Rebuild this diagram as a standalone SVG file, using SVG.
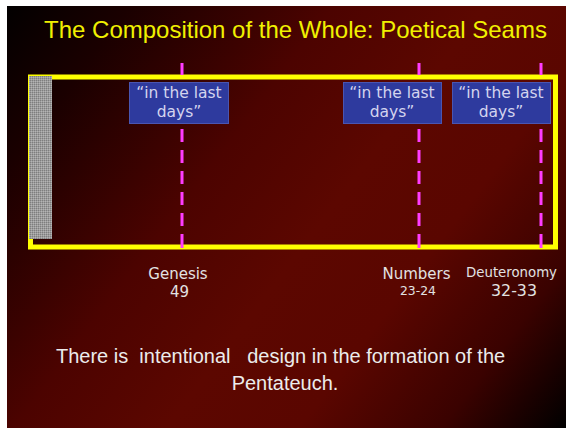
<svg xmlns="http://www.w3.org/2000/svg" width="566" height="428" viewBox="0 0 566 428">
<defs>
<linearGradient id="bg" gradientUnits="userSpaceOnUse" x1="0" y1="0" x2="566" y2="428">
<stop offset="0" stop-color="#000000"/>
<stop offset="0.15" stop-color="#1a0000"/>
<stop offset="0.38" stop-color="#4c0300"/>
<stop offset="0.55" stop-color="#5c0700"/>
<stop offset="0.7" stop-color="#5a0600"/>
<stop offset="0.86" stop-color="#3a0200"/>
<stop offset="1" stop-color="#000000"/>
</linearGradient>
<pattern id="dither" width="2" height="2" patternUnits="userSpaceOnUse">
<rect width="2" height="2" fill="#9c9c9c"/>
<rect width="1" height="1" fill="#7e7e7e"/>
<rect x="1" y="1" width="1" height="1" fill="#b4b4b4"/>
</pattern>
</defs>
<style>
.title{font-family:"Liberation Sans",Arial,sans-serif;font-size:24px;fill:#f0f000}
.box rect{fill:#2e3a9e;stroke:#4a55b0;stroke-width:1}
.box text{font-family:"DejaVu Sans",Verdana,sans-serif;font-size:15.5px;fill:#d4d4ee;text-anchor:middle}
.seam{stroke:#ff3cff;stroke-width:3;fill:none;stroke-dasharray:12 54 13 8 13 8 13 8 13 8 13 8 14 100}
.lbl{font-family:"DejaVu Sans",Verdana,sans-serif;fill:#e2e2e2;text-anchor:middle}
.body{font-family:"Liberation Sans",Arial,sans-serif;font-size:20px;fill:#ececec}
</style>
<rect x="0" y="0" width="566" height="428" fill="#ffffff"/>
<rect x="7" y="6" width="559" height="422" fill="url(#bg)"/>
<text class="title" x="295.5" y="38" text-anchor="middle">The Composition of the Whole: Poetical Seams</text>
<g id="frame">
<rect x="30.5" y="77" width="525" height="170" fill="none" stroke="#ffff00" stroke-width="5"/>
<rect x="29" y="76" width="23" height="163" fill="url(#dither)"/>
</g>
<g id="connectors">
<line class="seam" x1="182" y1="63" x2="182" y2="260"/>
<line class="seam" x1="419" y1="63" x2="419" y2="260"/>
<line class="seam" x1="541" y1="63" x2="541" y2="260"/>
</g>
<g id="box1" class="box">
<rect x="129.5" y="82.5" width="99" height="41"/>
<text x="179" y="98">“in the last</text>
<text x="179" y="117">days”</text>
</g>
<g id="box2" class="box">
<rect x="343.5" y="82.5" width="98" height="41"/>
<text x="392" y="98">“in the last</text>
<text x="392" y="117">days”</text>
</g>
<g id="box3" class="box">
<rect x="452.5" y="82.5" width="98" height="41"/>
<text x="501" y="98">“in the last</text>
<text x="501" y="117">days”</text>
</g>
<g id="genesis">
<text class="lbl" x="178" y="279" font-size="15">Genesis</text>
<text class="lbl" x="179.5" y="297" font-size="15">49</text>
</g>
<g id="numbers">
<text class="lbl" x="416.5" y="279" font-size="15">Numbers</text>
<text class="lbl" x="418" y="295" font-size="12.4">23-24</text>
</g>
<g id="deuteronomy">
<text class="lbl" x="511.5" y="277" font-size="13.3">Deuteronomy</text>
<text class="lbl" x="514" y="296" font-size="15.8">32-33</text>
</g>
<text class="body" x="56" y="363" xml:space="preserve" style="white-space:pre">There is  intentional   design in the formation of the</text>
<text class="body" x="285" y="390" text-anchor="middle">Pentateuch.</text>
</svg>
